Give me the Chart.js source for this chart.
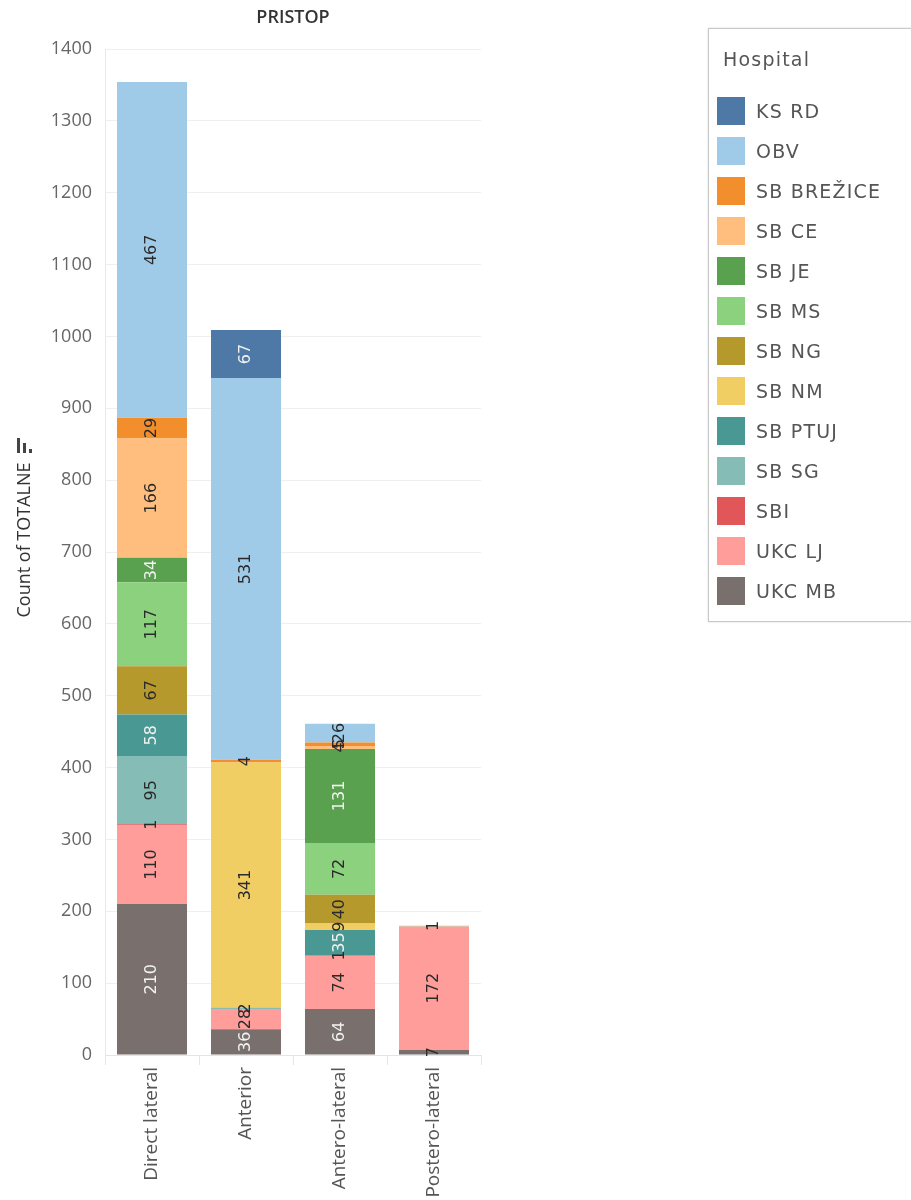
<!DOCTYPE html>
<html>
<head>
<meta charset="utf-8">
<script src="https://cdn.jsdelivr.net/npm/chart.js@4/dist/chart.umd.min.js"></script>
<style>
  body { margin: 0; background: #fff; font-family: "Open Sans", sans-serif; }
  #wrap { position: relative; width: 911px; height: 1200px; }
  #legend {
    position: absolute; left: 708px; top: 28px; width: 230px; height: 592px;
    border: 1px solid #c8c8c8; box-shadow: 0 0 2px rgba(0,0,0,0.15); background: #fff;
    font-family: "DejaVu Sans", sans-serif; letter-spacing: 1.2px;
  }
  #legend .ttl { position: absolute; left: 14px; top: 19px; font-size: 19px; color: #555; }
  #legend .row { position: absolute; left: 8px; height: 28px; display: flex; align-items: center; }
  #legend .sw { width: 28px; height: 28px; margin-right: 11px; }
  #legend .lbl { font-size: 19px; color: #555; }
</style>
</head>
<body>
<div id="wrap">
  <canvas id="chart" width="911" height="1200"></canvas>
  <div id="legend"><div class="ttl">Hospital</div></div>
</div>
<script>
const categories = ['Direct lateral', 'Anterior', 'Antero-lateral', 'Postero-lateral'];

// legend order (top to bottom)
const hospitals = ['KS RD', 'OBV', 'SB BREŽICE', 'SB CE', 'SB JE', 'SB MS', 'SB NG', 'SB NM', 'SB PTUJ', 'SB SG', 'SBI', 'UKC LJ', 'UKC MB'];
const colors = ['#4e79a7', '#a0cbe8', '#f28e2b', '#ffbe7d', '#59a14f', '#8cd17d', '#b6992d', '#f1ce63', '#499894', '#86bcb6', '#e15759', '#ff9d9a', '#79706e'];
const darkOnes = ['KS RD', 'SB JE', 'SB PTUJ', 'UKC MB'];

// counts per hospital, in category order
const ksRd      = [0, 67, 0, 0];
const obv       = [467, 531, 26, 0];
const sbBrezice = [29, 4, 5, 0];
const sbCe      = [166, 0, 4, 0];
const sbJe      = [34, 0, 131, 0];
const sbMs      = [117, 0, 72, 1];
const sbNg      = [67, 0, 40, 0];
const sbNm      = [0, 341, 9, 0];
const sbPtuj    = [58, 0, 35, 0];
const sbSg      = [95, 2, 0, 0];
const sbi       = [1, 0, 1, 0];
const ukcLj     = [110, 28, 74, 172];
const ukcMb     = [210, 36, 64, 7];

const yTicks = [0, 100, 200, 300, 400, 500, 600, 700, 800, 900, 1000, 1100, 1200, 1300, 1400];

const seriesValues = [ksRd, obv, sbBrezice, sbCe, sbJe, sbMs, sbNg, sbNm, sbPtuj, sbSg, sbi, ukcLj, ukcMb];

// bottom of the stack first
const datasets = hospitals.map((h, i) => ({
  label: h,
  data: seriesValues[i].map(v => v === 0 ? null : v),
  backgroundColor: colors[i],
  borderWidth: 0,
  categoryPercentage: 1,
  barPercentage: 0.745
})).reverse();

// build the html legend
const legendEl = document.getElementById('legend');
hospitals.forEach((h, i) => {
  const row = document.createElement('div');
  row.className = 'row';
  row.style.top = (68 + i * 40) + 'px';
  row.innerHTML = '<div class="sw" style="background:' + colors[i] + '"></div><div class="lbl">' + h + '</div>';
  legendEl.appendChild(row);
});

const barLabels = {
  id: 'barLabels',
  afterDatasetsDraw(chart) {
    const ctx = chart.ctx;
    ctx.save();
    ctx.font = '16px "DejaVu Sans", sans-serif';
    ctx.textAlign = 'center';
    ctx.textBaseline = 'middle';
    chart.data.datasets.forEach((ds, di) => {
      const meta = chart.getDatasetMeta(di);
      meta.data.forEach((el, idx) => {
        const v = ds.data[idx];
        if (v == null) return;
        const h = Math.abs(el.base - el.y);
        const dark = darkOnes.includes(ds.label) && h > 18;
        ctx.fillStyle = dark ? '#f2f2f2' : '#2a2a2a';
        ctx.save();
        ctx.translate(el.x, (el.y + el.base) / 2);
        ctx.rotate(-Math.PI / 2);
        ctx.fillText(String(v), 0, 0);
        ctx.restore();
      });
    });
    ctx.restore();
  }
};

const extras = {
  id: 'extras',
  afterDraw(chart) {
    const ctx = chart.ctx;
    const area = chart.chartArea;
    ctx.save();
    ctx.fillStyle = '#333';
    ctx.font = '600 18px "Open Sans", sans-serif';
    ctx.textAlign = 'center';
    ctx.textBaseline = 'middle';
    ctx.fillText('PRISTOP', (area.left + area.right) / 2, 18);

    ctx.save();
    ctx.translate(25, 540);
    ctx.rotate(-Math.PI / 2);
    ctx.font = '18px "Open Sans", sans-serif';
    ctx.fillStyle = '#333';
    ctx.fillText('Count of TOTALNE', 0, 0);
    ctx.restore();

    // sort icon
    ctx.fillStyle = '#444';
    ctx.fillRect(17, 438, 3, 15);
    ctx.fillRect(23, 443, 3, 10);
    ctx.fillRect(29, 449, 3, 4);
    ctx.restore();
  }
};

new Chart(document.getElementById('chart'), {
  type: 'bar',
  data: { labels: categories, datasets: datasets },
  options: {
    responsive: false,
    animation: false,
    layout: { padding: { top: 49, right: 430, left: 0, bottom: 0 } },
    plugins: { legend: { display: false }, tooltip: { enabled: false } },
    scales: {
      x: {
        stacked: true,
        grid: { display: true, drawOnChartArea: false, drawTicks: true, tickLength: 10, color: '#e6e6e6' },
        border: { color: '#e4e4e4' },
        ticks: {
          minRotation: 90, maxRotation: 90, padding: 2,
          color: '#555', font: { size: 19, family: '"Open Sans", sans-serif' }
        },
        afterFit(scale) { scale.height = 145; }
      },
      y: {
        stacked: true,
        min: 0, max: 1400,
        afterBuildTicks(scale) { scale.ticks = yTicks.map(v => ({ value: v })); },
        grid: { color: '#efefef', drawTicks: false },
        border: { color: '#e8e8e8' },
        ticks: {
          padding: 13, color: '#666',
          font: { size: 18, family: '"Open Sans", sans-serif' },
          callback: v => String(v)
        },
        afterFit(scale) { scale.width = 105; }
      }
    }
  },
  plugins: [barLabels, extras]
});
</script>
</body>
</html>
